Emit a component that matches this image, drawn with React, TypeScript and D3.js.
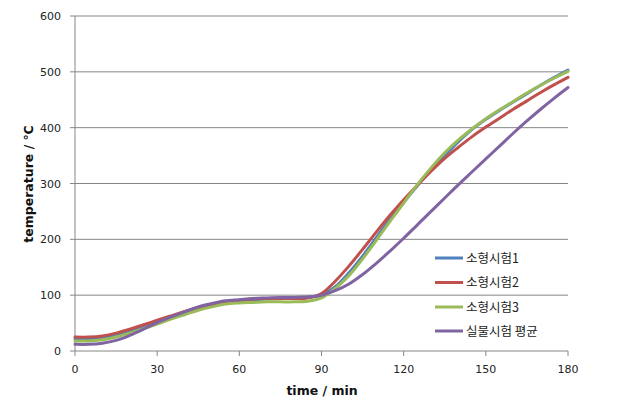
import React from "react";
import * as d3 from "d3";

const times = [0,5,10,15,20,25,30,35,40,45,50,55,60,65,70,75,80,85,90,95,100,105,110,115,120,125,130,135,140,145,150,155,160,165,170,175,180];
const series1 = [22,22,24,29,36,44,52,61,69,77,83,87,90,92,93,94,95,96,100,115,140,170,203,236,266,296,324,350,375,397,415,431,446,461,476,490,503];
const series2 = [25,25,27,32,39,47,55,63,71,78,84,88,91,93,94,94,94,95,103,125,152,182,213,243,271,297,322,345,365,384,401,417,433,448,463,477,490];
const series3 = [18,18,20,25,32,40,48,57,65,73,79,84,86,87,88,88,88,89,95,112,135,165,198,232,265,298,328,355,378,398,416,432,447,462,476,489,501];
const series4 = [12,12,14,19,28,39,51,61,70,79,85,90,92,94,95,96,96,97,100,108,120,137,157,179,202,226,250,274,298,321,344,367,390,412,433,453,472];
const seriesNames = ["소형시험1", "소형시험2", "소형시험3", "실물시험 평균"];
const seriesColors = ["#4F81BD", "#C0504D", "#9BBB59", "#8064A2"];
const xTicks = [0, 30, 60, 90, 120, 150, 180];
const yTicks = [0, 100, 200, 300, 400, 500, 600];

export default function App() {
  const W = 617, H = 414;
  const x = d3.scaleLinear().domain([0, 180]).range([75, 568]);
  const y = d3.scaleLinear().domain([0, 600]).range([351, 16]);
  const all = [series1, series2, series3, series4];
  const line = d3.line<number>()
    .x((_, i) => x(times[i]))
    .y((d) => y(d))
    .curve(d3.curveCatmullRom.alpha(0.5));
  const font = "'DejaVu Sans', sans-serif";
  const kfont = "'Noto Sans CJK KR', sans-serif";
  const legendY = [258, 282.5, 307, 331];
  return (
    <svg width={W} height={H} style={{ position: "absolute", left: 0, top: 0 }}>
      <rect width={W} height={H} fill="#fff" />
      {yTicks.map((t) => (
        <g key={"y" + t}>
          <line x1={70} x2={568} y1={y(t)} y2={y(t)} stroke="#868686" strokeWidth={1} />
          <text x={61} y={y(t) + 4} textAnchor="end" fontSize={11} fontFamily={font} fill="#222">{t}</text>
        </g>
      ))}
      <line x1={75} x2={75} y1={16} y2={351} stroke="#868686" strokeWidth={1} />
      {xTicks.map((t) => (
        <g key={"x" + t}>
          <line x1={x(t)} x2={x(t)} y1={351} y2={356} stroke="#868686" strokeWidth={1} />
          <text x={x(t)} y={373} textAnchor="middle" fontSize={11} fontFamily={font} fill="#222">{t}</text>
        </g>
      ))}
      {all.map((s, i) => (
        <path key={i} d={line(s) || ""} fill="none" stroke={seriesColors[i]} strokeWidth={3} strokeLinejoin="round" strokeLinecap="round" />
      ))}
      {seriesNames.map((n, i) => (
        <g key={n}>
          <line x1={435} x2={463} y1={legendY[i]} y2={legendY[i]} stroke={seriesColors[i]} strokeWidth={3} />
          <text x={466} y={legendY[i] + 4.5} fontSize={12.5} fontFamily={kfont} fill="#222">{n}</text>
        </g>
      ))}
      <text x={322} y={395} textAnchor="middle" fontSize={12.5} fontWeight="bold" fontFamily={font} fill="#111">time / min</text>
      <text transform={`translate(33,${184}) rotate(-90)`} textAnchor="middle" fontSize={12.5} fontWeight="bold" fontFamily={font} fill="#111">temperature / ℃</text>
    </svg>
  );
}
